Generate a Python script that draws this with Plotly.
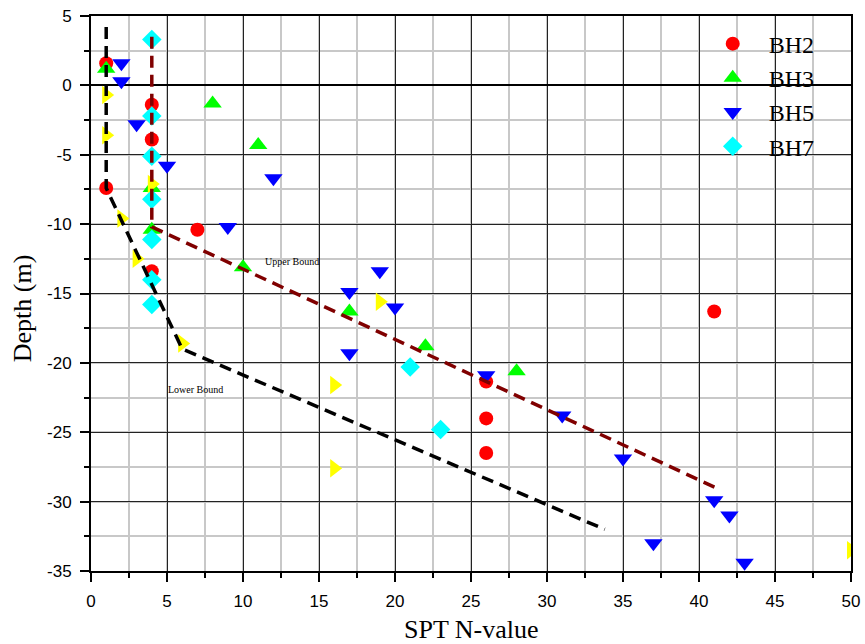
import plotly.graph_objects as go

# BH2 (red circles)
bh2_n = [1, 4, 4, 1, 7, 4, 41, 26, 26, 26]
bh2_d = [1.6, -1.4, -3.9, -7.4, -10.4, -13.4, -16.3, -21.35, -24.0, -26.5]

# BH3 (green triangles up)
bh3_n = [1, 8, 11, 4, 4, 10, 17, 22, 28]
bh3_d = [1.2, -1.3, -4.3, -7.4, -10.4, -13.1, -16.3, -18.8, -20.6]

# BH5 (blue triangles down)
bh5_n = [2, 2, 3, 5, 12, 9, 19, 17, 20, 17, 26, 31, 35, 37, 41, 42, 43]
bh5_d = [1.6, 0.3, -2.8, -5.8, -6.7, -10.2, -13.4, -14.9, -16.0, -19.3,
         -20.9, -23.8, -26.9, -33.0, -29.9, -31.0, -34.4]

# BH7 (cyan diamonds)
bh7_n = [4, 4, 4, 4, 4, 4, 4, 21, 23]
bh7_d = [3.3, -2.2, -5.1, -8.2, -11.1, -14.0, -15.8, -20.3, -24.8]

# Unlabelled borehole (yellow triangles right)
bhx_n = [1, 1, 4, 2, 3, 6, 19, 16, 16, 50]
bhx_d = [-0.7, -3.6, -7.1, -9.6, -12.5, -18.6, -15.6, -21.6, -27.6, -33.5]

# Bound lines
upper_n = [4, 4, 41.3]
upper_d = [3.5, -10.2, -29.1]
lower_n = [1, 1, 6, 33.8]
lower_d = [4.2, -7.4, -19.0, -32.0]

x_ticks = [0, 5, 10, 15, 20, 25, 30, 35, 40, 45, 50]
y_ticks = [5, 0, -5, -10, -15, -20, -25, -30, -35]

fig = go.Figure()

def add_pts(xs, ys, name, color, symbol, size, show=True):
    fig.add_trace(go.Scatter(
        x=xs, y=ys, mode="markers", name=name, showlegend=show,
        marker=dict(color=color, symbol=symbol, size=size, line=dict(width=0)),
    ))

add_pts(bh2_n, bh2_d, "BH2", "#FF0000", "circle", 14)
add_pts(bh3_n, bh3_d, "BH3", "#00FF00", "triangle-up", 16)
add_pts(bh5_n, bh5_d, "BH5", "#0000FF", "triangle-down", 16)
add_pts(bh7_n, bh7_d, "BH7", "#00FFFF", "diamond", 15)
add_pts(bhx_n, bhx_d, "BH", "#FFFF00", "triangle-right", 16, show=False)

fig.add_trace(go.Scatter(x=upper_n, y=upper_d, mode="lines", showlegend=False,
                         line=dict(color="#800000", width=3.5, dash="12px,7px")))
fig.add_trace(go.Scatter(x=lower_n, y=lower_d, mode="lines", showlegend=False,
                         line=dict(color="#000000", width=3.5, dash="12px,7px")))

fig.add_annotation(x=13.2, y=-12.66, text="Upper Bound", showarrow=False,
                   font=dict(family="Liberation Serif", size=10, color="#000"))
fig.add_annotation(x=6.9, y=-21.9, text="Lower Bound", showarrow=False,
                   font=dict(family="Liberation Serif", size=10, color="#000"))

fig.add_annotation(xref="paper", yref="paper", x=0.5, y=-0.106, yanchor="middle",
                   text="SPT N-value", showarrow=False,
                   font=dict(family="Liberation Serif", size=26, color="#000"))
fig.add_annotation(xref="paper", yref="paper", x=-0.089, y=0.474, textangle=-90,
                   xanchor="center", yanchor="middle",
                   text="Depth (m)", showarrow=False,
                   font=dict(family="Liberation Serif", size=26, color="#000"))

axis_common = dict(
    showline=True, linecolor="#000", linewidth=2, mirror=True,
    showgrid=True, gridcolor="#222222", gridwidth=1,
    ticks="outside", ticklen=9, tickwidth=1.5, tickcolor="#000",
    tickfont=dict(family="Liberation Sans", size=17, color="#000"),
    minor=dict(showgrid=True, gridcolor="#C8C8C8", gridwidth=1.5,
               ticks="outside", ticklen=5, tickwidth=1.5, tickcolor="#000"),
)

fig.update_xaxes(range=[0, 50], tickvals=x_ticks, ticktext=[str(v) for v in x_ticks],
                 minor_dtick=2.5, zeroline=False, ticklabelstandoff=5, **axis_common)
fig.update_yaxes(range=[-35, 5], tickvals=y_ticks, ticktext=[str(v) for v in y_ticks],
                 minor_dtick=2.5, zeroline=True, zerolinecolor="#000", zerolinewidth=2,
                 ticklabelstandoff=5, **axis_common)

fig.update_layout(
    width=865, height=644,
    margin=dict(l=91, r=14, t=16, b=73, autoexpand=False),
    plot_bgcolor="white", paper_bgcolor="white",
    legend=dict(x=0.797, y=0.99, xanchor="left", yanchor="top",
                bgcolor="rgba(0,0,0,0)", borderwidth=0, itemwidth=62,
                font=dict(family="Liberation Serif", size=24, color="#000"),
                tracegroupgap=0),
)

fig.write_html(
    "out.html",
    config={"displayModeBar": False},
    post_script="document.body.style.margin='0';document.body.style.overflow='hidden';",
)
